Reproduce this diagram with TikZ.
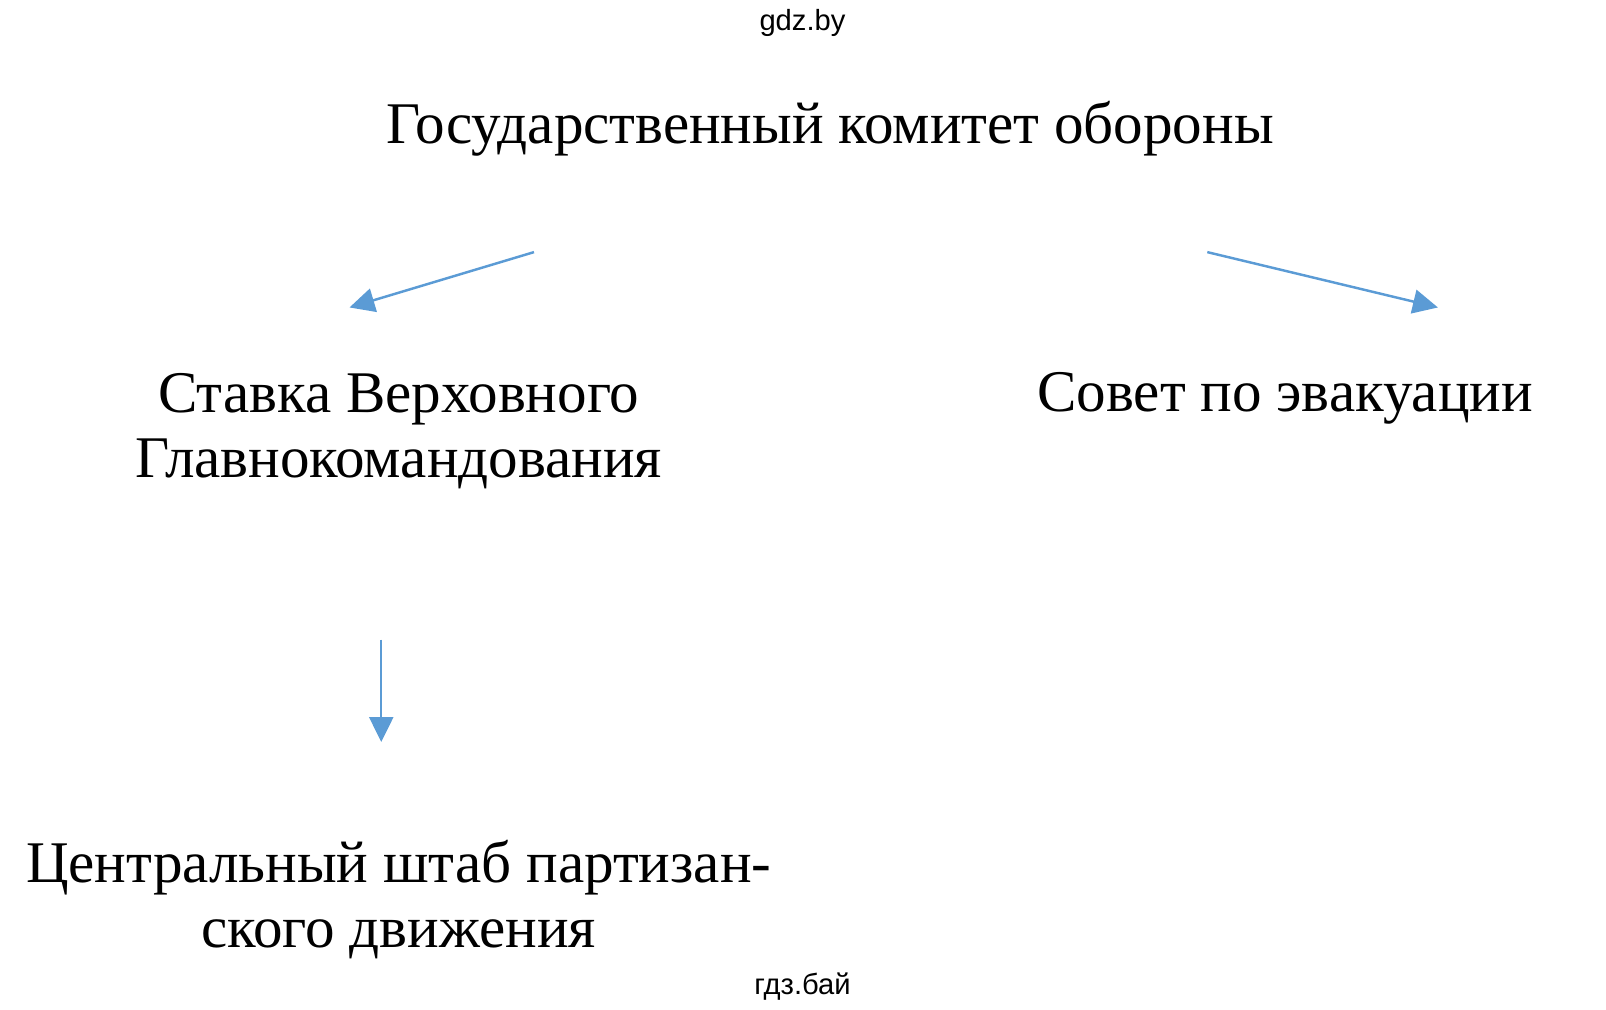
\documentclass[tikz,border=0pt]{standalone}
\usepackage{fontspec}
\setmainfont{Liberation Serif}
\newfontfamily\wmfont{Liberation Sans}
\usetikzlibrary{arrows.meta}
\definecolor{arrowblue}{HTML}{5B9BD5}
\tikzset{
  title/.style={font=\fontsize{33.6}{37}\selectfont, align=center, inner sep=0pt},
  mark text/.style={font=\wmfont\fontsize{16.6}{20}\selectfont, inner sep=0pt},
  link/.style={draw=arrowblue, line width=1.4pt, -{Triangle[width=0.48cm,length=0.5cm,fill=arrowblue]}}
}
\begin{document}
\begin{tikzpicture}[x=0.0205cm,y=-0.0205cm]
\useasboundingbox (0,0) rectangle (1567,985);
% texts
\node [mark text] (top) at (783,22) {gdz.by};
\node [mark text] (bottom) at (783,963) {гдз.бай};
\node [title] (gko) at (810,126) {Государственный комитет обороны};
\node [title] (stavka) at (389,421) {Ставка Верховного\\Главнокомандования};
\node [title] (sovet) at (1254,389) {Совет по эвакуации};
\node [title] (tsh) at (389,878) {Центральный штаб партизан-\\ского движения};
% arrows
\foreach \name / \a / \b in {left/{521,246}/{341,300}, right/{1178,246}/{1403,300}, down/{372,624}/{372,724}}
{%
  \coordinate (\name s) at (\a);
  \coordinate (\name e) at (\b);
  \draw [link] (\name s) -- (\name e);
}
\end{tikzpicture}
\end{document}
